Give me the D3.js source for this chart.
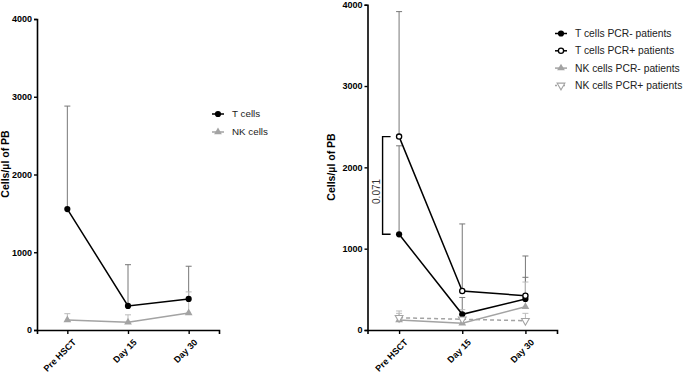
<!DOCTYPE html>
<html>
<head>
<meta charset="utf-8">
<script src="https://cdn.jsdelivr.net/npm/d3@7"></script>
<style>
  body { margin: 0; background: #fff; }
  text { font-family: "Liberation Sans", Arial, sans-serif; }
</style>
</head>
<body>
<div class="canvas"></div>
<script>
// data
const categories = ['Pre HSCT', 'Day 15', 'Day 30'];
const yTicks = [0, 1000, 2000, 3000, 4000];

// left panel
const tCells = [1555, 310, 400];
const tCellsErr = [2880, 840, 820];
const nkCells = [130, 100, 220];
const nkCellsErr = [210, 195, 490];

// right panel
const tPcrNeg = [1177, 193, 381];
const tPcrNegErr = [2265, 400, 648];
const tPcrPos = [2378, 480, 422];
const tPcrPosErr = [3915, 1304, 910];
const nkPcrNeg = [123, 82, 287];
const nkPcrNegErr = [205, 150, 590];
const nkPcrPos = [151, 132, 114];
const nkPcrPosErr = [234, 250, 205];
const pLabel = '0.071';

const svg = d3.select('.canvas')
    .append('svg')
    .attr('width', 685)
    .attr('height', 374);

const BLACK = '#000';
const GREY = '#a3a3a3';

// marker shapes
const tri = d3.symbol().type(d3.symbolTriangle).size(26);

function drawMarker(g, x, y, kind, color) {
    if (kind === 'filled') {
        g.append('circle').attr('cx', x).attr('cy', y).attr('r', 3.1).attr('fill', color);
    } else if (kind === 'open') {
        g.append('circle').attr('cx', x).attr('cy', y).attr('r', 2.6)
            .attr('fill', '#fff').attr('stroke', color).attr('stroke-width', 1.3);
    } else if (kind === 'tri') {
        g.append('path').attr('d', tri()).attr('transform', `translate(${x},${y})`)
            .attr('fill', color);
    } else if (kind === 'triDown') {
        g.append('path').attr('d', tri()).attr('transform', `translate(${x},${y}) rotate(180)`)
            .attr('fill', '#fff').attr('stroke', color).attr('stroke-width', 1.1);
    }
}

// build one panel
function panel(opts) {
    const x = d3.scalePoint().domain(categories).range([opts.left, opts.right]).padding(0.5);
    const y = d3.scaleLinear().domain([0, 4000]).range([opts.bottom, opts.top]);
    const g = svg.append('g');

    // y axis
    const yAxis = d3.axisLeft(y).tickValues(yTicks).tickSize(3).tickPadding(2).tickFormat(d3.format('d'));
    const yg = g.append('g').attr('transform', `translate(${opts.left},0)`).call(yAxis);
    // x axis
    const xAxis = d3.axisBottom(x).tickSize(4).tickPadding(3);
    const xg = g.append('g').attr('transform', `translate(0,${opts.bottom})`).call(xAxis);

    [yg, xg].forEach(a => {
        a.select('.domain').attr('stroke', BLACK).attr('stroke-width', 1.6);
        a.selectAll('.tick line').attr('stroke', BLACK).attr('stroke-width', 1.4);
        a.selectAll('text').attr('font-family', '"Liberation Sans", Arial, sans-serif')
            .attr('font-weight', 'bold').attr('font-size', 9).attr('fill', BLACK);
    });
    xg.selectAll('.tick text')
        .attr('text-anchor', 'end')
        .attr('dy', '0.3em')
        .attr('transform', 'translate(2,6) rotate(-45)');

    // y axis title
    g.append('text')
        .attr('transform', `translate(${opts.titleX},${opts.titleY}) rotate(-90)`)
        .attr('text-anchor', 'middle')
        .attr('font-weight', 'bold')
        .attr('font-size', 10.5)
        .text('Cells/\u00b5l of PB');

    const lineGen = d3.line().x((d, i) => x(categories[i])).y(d => y(d));

    // error bars (upper only)
    opts.series.forEach(s => {
        s.err.forEach((e, i) => {
            const cx = x(categories[i]);
            g.append('line').attr('x1', cx).attr('x2', cx).attr('y1', y(s.values[i])).attr('y2', y(e))
                .attr('stroke', s.errColor).attr('stroke-width', 1);
            g.append('line').attr('x1', cx - 3).attr('x2', cx + 3).attr('y1', y(e)).attr('y2', y(e))
                .attr('stroke', s.errColor).attr('stroke-width', 1);
        });
    });
    // lines
    opts.series.forEach(s => {
        g.append('path').datum(s.values).attr('d', lineGen)
            .attr('fill', 'none').attr('stroke', s.color).attr('stroke-width', 1.5)
            .attr('stroke-dasharray', s.dash || null);
    });
    // markers
    opts.series.forEach(s => {
        s.values.forEach((v, i) => drawMarker(g, x(categories[i]), y(v), s.marker, s.color));
    });

    // legend
    opts.series.forEach((s, i) => {
        const ly = opts.legendY + i * opts.legendStep;
        g.append('line').attr('x1', opts.legendX).attr('x2', opts.legendX + 12)
            .attr('y1', ly).attr('y2', ly).attr('stroke', s.color).attr('stroke-width', 1.5)
            .attr('stroke-dasharray', s.dash ? '2,2' : null);
        drawMarker(g, opts.legendX + 6, ly, s.marker, s.color);
        g.append('text').attr('x', opts.legendX + 20).attr('y', ly).attr('dy', '0.35em')
            .attr('font-size', opts.legendFont).attr('fill', '#222').text(s.name);
    });

    return { g, x, y };
}

// left panel
panel({
    left: 37, right: 219, top: 19, bottom: 330,
    titleX: 9, titleY: 164,
    legendX: 212, legendY: 114, legendStep: 18, legendFont: 9.8,
    series: [
        { name: 'T cells', values: tCells, err: tCellsErr, color: BLACK, errColor: '#777', marker: 'filled' },
        { name: 'NK cells', values: nkCells, err: nkCellsErr, color: GREY, errColor: '#bbb', marker: 'tri' },
    ]
});

// right panel
const right = panel({
    left: 367.5, right: 557, top: 4.7, bottom: 330,
    titleX: 335, titleY: 167,
    legendX: 555, legendY: 33.5, legendStep: 17.3, legendFont: 10.3,
    series: [
        { name: 'T cells PCR- patients', values: tPcrNeg, err: tPcrNegErr, color: BLACK, errColor: '#777', marker: 'filled' },
        { name: 'T cells PCR+ patients', values: tPcrPos, err: tPcrPosErr, color: BLACK, errColor: '#777', marker: 'open' },
        { name: 'NK cells PCR- patients', values: nkPcrNeg, err: nkPcrNegErr, color: GREY, errColor: '#bbb', marker: 'tri' },
        { name: 'NK cells PCR+ patients', values: nkPcrPos, err: nkPcrPosErr, color: GREY, errColor: '#bbb', marker: 'triDown', dash: '4,3' },
    ]
});

// significance bracket between the two T cell groups at Pre HSCT
const bx = right.x(categories[0]) - 16.5;
const yTop = right.y(tPcrPos[0]);
const yBot = right.y(tPcrNeg[0]);
right.g.append('path')
    .attr('d', `M${bx + 8},${yTop}H${bx}V${yBot}H${bx + 8}`)
    .attr('fill', 'none').attr('stroke', BLACK).attr('stroke-width', 1.4);
right.g.append('text')
    .attr('transform', `translate(${bx - 3},${(yTop + yBot) / 2 + 6}) rotate(-90)`)
    .attr('text-anchor', 'middle')
    .attr('font-size', 10)
    .attr('fill', '#333')
    .text(pLabel);
</script>
</body>
</html>
